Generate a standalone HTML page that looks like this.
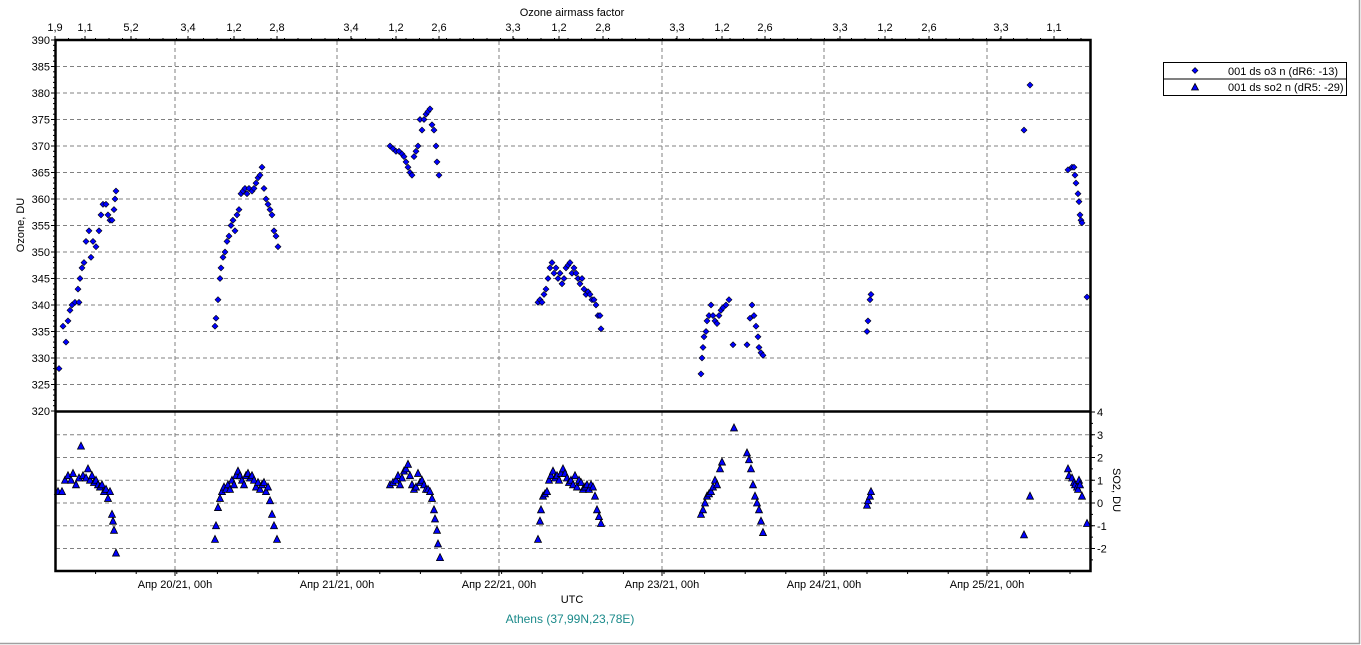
<!DOCTYPE html>
<html><head><meta charset="utf-8"><style>
html,body{margin:0;padding:0;background:#fff;}
svg{display:block;font-family:"Liberation Sans",sans-serif;}
</style></head><body>
<svg id="s" width="1361" height="645" viewBox="0 0 1361 645" xmlns="http://www.w3.org/2000/svg">
<rect width="1361" height="645" fill="#fff"/>
<line x1="1359.5" y1="0" x2="1359.5" y2="644" stroke="#a0a0a0" stroke-width="1.5"/>
<line x1="0" y1="643.5" x2="1360" y2="643.5" stroke="#a0a0a0" stroke-width="1.5"/>
<g id="grid" stroke="#808080" stroke-width="1" stroke-dasharray="4,3"></g>
<g id="ticks" stroke="#000" stroke-width="1"></g>
<g id="pts"></g>
<g stroke="#000" stroke-width="2.5" fill="none">
<rect x="55.5" y="40" width="1035" height="531"/>
<line x1="55" y1="411.5" x2="1091" y2="411.5"/>
</g>
<g id="lbl" font-size="11" fill="#000"></g>
<text x="572" y="16" font-size="11" text-anchor="middle">Ozone airmass factor</text>
<text x="572" y="603" font-size="11" text-anchor="middle">UTC</text>
<text x="570" y="623" font-size="12" text-anchor="middle" fill="#1a8a8a">Athens (37,99N,23,78E)</text>
<text transform="translate(24,225) rotate(-90)" font-size="11" text-anchor="middle">Ozone, DU</text>
<text transform="translate(1113,490) rotate(90)" font-size="11" text-anchor="middle">SO2, DU</text>
<g font-size="11">
<rect x="1163.5" y="62.5" width="183" height="33" fill="#fff" stroke="#000"/>
<line x1="1163.5" y1="79" x2="1346.5" y2="79" stroke="#000"/>
<path d="M1195 67.5 L1198 70.5 L1195 73.5 L1192 70.5Z" fill="#0000ff" stroke="#000" stroke-width="0.6"/>
<path d="M1195 83.5 L1198.5 90 L1191.5 90Z" fill="#0000ff" stroke="#000" stroke-width="0.8"/>
<text x="1228" y="75">001 ds o3  n (dR6: -13)</text>
<text x="1228" y="91">001 ds so2 n (dR5: -29)</text>
</g>
</svg>
<script>
var NS="http://www.w3.org/2000/svg",s=document.getElementById('s');
function el(p,t,a,txt){var e=document.createElementNS(NS,t);for(var k in a)e.setAttribute(k,a[k]);if(txt!=null)e.textContent=txt;document.getElementById(p).appendChild(e);return e;}
var yo=function(v){return 40+(390-v)*5.3;}, ys=function(v){return 503-v*22.75;};
// grid
for(var v=385;v>320;v-=5){var y=yo(v);el('grid','line',{x1:56,y1:y,x2:1090,y2:y});}
for(var v=3;v>=-2;v--){var y=ys(v);el('grid','line',{x1:56,y1:y,x2:1090,y2:y});}
var dx=[175,337,499,662,824,987];
dx.forEach(function(x){el('grid','line',{x1:x,y1:41,x2:x,y2:570});});
// left labels + ticks
for(var v=390;v>=320;v-=5){var y=yo(v);el('lbl','text',{x:50,y:y+4,'text-anchor':'end'},v);el('ticks','line',{x1:51,y1:y,x2:55,y2:y});}
for(var v=390;v>=320;v-=1){var y=yo(v);el('ticks','line',{x1:53,y1:y,x2:55,y2:y});}
// right labels
for(var v=4;v>=-2;v--){var y=ys(v);el('lbl','text',{x:1097,y:y+4},v);el('ticks','line',{x1:1091,y1:y,x2:1095,y2:y});}
for(var v=4;v>=-2.9;v-=0.5){var y=ys(v);el('ticks','line',{x1:1091,y1:y,x2:1093,y2:y});}
// bottom labels
var dl=['Апр 20/21, 00h','Апр 21/21, 00h','Апр 22/21, 00h','Апр 23/21, 00h','Апр 24/21, 00h','Апр 25/21, 00h'];
dx.forEach(function(x,i){el('lbl','text',{x:x,y:588,'text-anchor':'middle'},dl[i]);el('ticks','line',{x1:x,y1:571,x2:x,y2:576});});
for(var x=55+40.6;x<1091;x+=40.6){el('ticks','line',{x1:x,y1:571,x2:x,y2:574});}
// top labels
var tl=[[55,'1,9'],[85,'1,1'],[131,'5,2'],[188,'3,4'],[234,'1,2'],[277,'2,8'],[351,'3,4'],[396,'1,2'],[439,'2,6'],[513,'3,3'],[559,'1,2'],[603,'2,8'],[677,'3,3'],[722,'1,2'],[765,'2,6'],[840,'3,3'],[885,'1,2'],[929,'2,6'],[1001,'3,3'],[1054,'1,1']];
tl.forEach(function(t){el('lbl','text',{x:t[0],y:31,'text-anchor':'middle'},t[1]);el('ticks','line',{x1:t[0],y1:36,x2:t[0],y2:40});});
for(var x=55;x<1091;x+=13.5){el('ticks','line',{x1:x,y1:38,x2:x,y2:40});}
var O=[[59,328],[63,336],[66,333],[68,337],[70,339],[72,340],[75,340.5],[78,343],[79,340.5],[80,345],[82,347],[84,348],[86,352],[89,354],[91,349],[93,352],[96,351],[99,354],[101,357],[103,359],[106,359],[108,357],[110,356],[112,356],[114,358],[115,360],[116,361.5],
[215,336],[216,337.5],[218,341],[220,345],[221,347],[223,349],[225,350],[227,352],[229,353],[231,355],[233,356],[235,354],[237,357],[239,358],[241,361],[243,361.5],[245,362],[247,361],[249,362],[252,361.5],[254,362],[256,363],[258,364],[260,364.5],[262,366],[264,362],[266,360],[268,359],[270,358],[272,357],[274,354],[276,353],[278,351],
[390,370],[393,369.5],[396,369],[399,369],[402,368.5],[404,368],[406,367],[408,366],[410,365],[412,364.5],[414,368],[416,369],[418,370],[420,375],[422,373],[424,375],[426,376],[428,376.5],[430,377],[432,374],[434,373],[436,370],[437,367],[439,364.5],
[538,340.5],[540,341],[542,340.5],[544,342],[546,343],[548,345],[550,347],[552,348],[554,346],[556,347],[558,345],[560,346],[562,344],[564,345],[566,347],[568,347.5],[570,348],[572,346],[574,347],[576,346],[578,345],[580,344],[582,345],[584,343],[586,342],[588,342.5],[590,342],[592,341],[594,341],[596,340],[598,338],[600,338],[601,335.5],
[701,327],[702,330],[703,332],[704,334],[706,335],[707,337],[709,338],[711,340],[713,338],[715,337],[717,336.5],[719,338],[721,339],[723,339.5],[726,340],[729,341],[733,332.5],[747,332.5],[750,337.5],[752,340],[754,338],[756,336],[758,334],[759,332],[761,331],[763,330.5],
[867,335],[868,337],[870,341],[871,342],
[1024,373],[1030,381.5],[1068,365.5],[1072,366],[1074,366],[1075,364.5],[1076,363],[1078,361],[1079,359.5],[1080,357],[1081,356],[1082,355.5],[1087,341.5]];
var S=[[58,0.5],[62,0.5],[65,1],[68,1.2],[71,1],[73,1.3],[76,0.8],[79,1.1],[81,2.5],[83,1.2],[86,1.1],[88,1.5],[90,1],[92,1.2],[94,0.9],[96,1],[98,0.8],[100,0.7],[102,0.8],[104,0.5],[106,0.6],[108,0.2],[110,0.5],[112,-0.5],[113,-0.8],[114,-1.2],[116,-2.2],
[215,-1.6],[216,-1],[218,-0.2],[220,0.2],[222,0.5],[224,0.7],[226,0.6],[228,0.8],[230,0.6],[232,1],[234,0.8],[236,1.2],[238,1.4],[240,1.2],[242,1],[244,0.8],[246,1.2],[248,1.3],[250,1.1],[252,1.2],[254,1],[256,0.7],[258,0.9],[260,0.6],[262,0.8],[264,0.9],[266,0.5],[268,0.7],[270,0.1],[272,-0.5],[274,-1],[277,-1.6],
[390,0.8],[393,0.9],[396,1],[398,1.2],[400,0.8],[402,1.1],[404,1.4],[406,1.5],[408,1.7],[410,1.2],[412,0.8],[414,0.6],[416,0.7],[418,1.3],[420,0.9],[422,1],[424,0.8],[426,0.6],[428,0.6],[430,0.5],[432,0.2],[434,-0.3],[435,-0.7],[437,-1.2],[438,-1.8],[440,-2.4],
[538,-1.6],[540,-0.8],[541,-0.3],[543,0.3],[545,0.4],[547,0.5],[549,1],[551,1.2],[553,1.4],[555,1.1],[557,1.2],[559,1],[561,1.3],[563,1.5],[565,1.3],[567,1.1],[569,0.9],[571,1],[573,0.8],[575,1.2],[577,0.7],[579,1],[581,0.9],[583,0.6],[585,0.7],[587,0.8],[589,0.6],[591,0.8],[593,0.7],[595,0.3],[597,-0.3],[599,-0.6],[601,-0.9],
[701,-0.5],[703,-0.3],[705,0],[707,0.3],[709,0.4],[711,0.5],[713,0.7],[715,1],[717,0.8],[720,1.5],[722,1.8],[734,3.3],[747,2.2],[749,1.9],[751,1.5],[753,0.8],[755,0.3],[757,0],[759,-0.3],[761,-0.8],[763,-1.3],
[867,-0.1],[868,0.1],[870,0.3],[871,0.5],
[1024,-1.4],[1030,0.3],[1068,1.5],[1069,1.2],[1072,1.1],[1074,0.9],[1075,0.8],[1077,0.7],[1078,0.6],[1079,1],[1080,0.8],[1082,0.3],[1087,-0.9]];
O.forEach(function(p){var x=p[0],y=yo(p[1]);el('pts','path',{d:'M'+x+' '+(y-3)+'L'+(x+3)+' '+y+'L'+x+' '+(y+3)+'L'+(x-3)+' '+y+'Z',fill:'#0000ff',stroke:'#000','stroke-width':0.6});});
S.forEach(function(p){var x=p[0],y=ys(p[1]);el('pts','path',{d:'M'+x+' '+(y-4)+'L'+(x+3.5)+' '+(y+3)+'L'+(x-3.5)+' '+(y+3)+'Z',fill:'#0000ff',stroke:'#000','stroke-width':0.8});});
</script>
</body></html>
